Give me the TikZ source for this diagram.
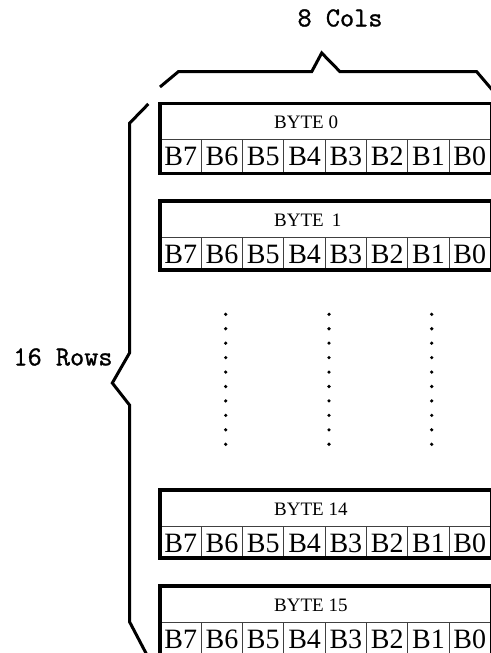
\documentclass[tikz,border=0pt]{standalone}
\usepackage{fontspec}
\setmainfont{Liberation Serif}
\newfontfamily\labelmono[FakeBold=1.2]{Latin Modern Mono}
\begin{document}
\begin{tikzpicture}[x=1pt,y=-1pt,
  outerline/.style={line width=3.2pt},
  innerline/.style={line width=0.9pt,black!75},
  braceline/.style={line width=3pt,line join=miter},
  bitlabel/.style={inner sep=0pt,anchor=base,font=\fontsize{28}{30}\selectfont},
  bytelabel/.style={inner sep=0pt,anchor=base west,font=\fontsize{19}{21}\selectfont},
  monolabel/.style={inner sep=0pt,font=\labelmono\fontsize{27.5}{30}\selectfont},
  dotmark/.style={fill=black}]
\useasboundingbox (0,0) rectangle (490,653);
\fill[white] (0,0) rectangle (490,653);
\newcommand\bytebox[4]{%
  \draw[innerline] (160,{#2+36}) -- (492,{#2+36});
  \foreach \k in {1,...,7} {\draw[innerline] ({160+41.3*\k},{#2+36}) -- ({160+41.3*\k},{#2+#4});}
  \draw[outerline] (160,#2) rectangle (492,{#2+#4});
  \node[bytelabel] (#1t) at (274,{#2+25}) {#3};
  \foreach \b [count=\i from 0] in {7,6,5,4,3,2,1,0} {
    \node[bitlabel] (#1b\b) at ({180.7+41.3*\i},{#2+62}) {B\b};}
}
\bytebox{byteA}{103.3}{BYTE 0}{70}
\bytebox{byteB}{201}{BYTE\hspace{3.4pt} 1}{69}
\bytebox{byteC}{490}{BYTE 14}{68}
\bytebox{byteD}{586}{BYTE 15}{70}
% dots
\foreach \x in {225.7,329,431.7} {
  \foreach \j in {0,...,9} {\fill[dotmark] (\x,{314.3+14.44*\j}) circle (1.8);}
}
% top brace
\draw[braceline] (160,87) -- (178.3,71.7) -- (311.7,71.7) -- (321.7,53) -- (340,71.7) -- (476.7,71.7) -- (494,92);
% left brace
\draw[braceline] (148.3,104) -- (129.5,123.3) -- (129.5,353) -- (112.3,383) -- (129.5,405) -- (129.5,621.7) -- (148,657);
% labels
\node[monolabel] (cols) at (340,18) {8 Cols};
\node[monolabel] (rows) at (63,357) {16 Rows};
\end{tikzpicture}
\end{document}
